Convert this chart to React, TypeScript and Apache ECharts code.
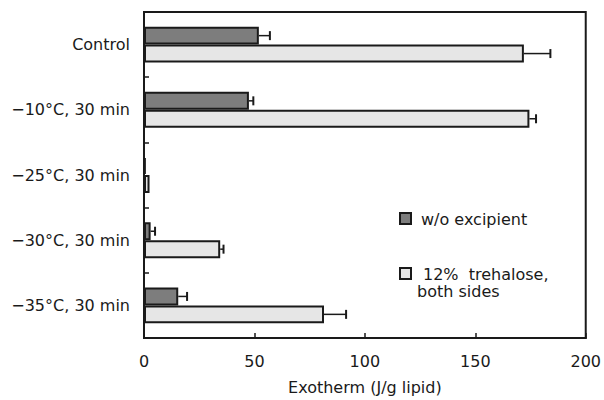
import React, { useEffect, useRef } from "react";
import * as echarts from "echarts";

const categories = ["Control", "−10°C, 30 min", "−25°C, 30 min", "−30°C, 30 min", "−35°C, 30 min"];
const woExcipient = [52, 47.5, 0.8, 3, 15.5];
const woExcipientErr = [5, 2, 0, 2, 4];
const trehalose = [172, 174.5, 2.5, 34.5, 81.5];
const trehaloseErr = [12, 3, 0, 1.5, 10];
const xTicks = { min: 0, max: 200, interval: 50 };
const legendLabels = ["w/o excipient", "12%  trehalose,", "both sides"];

const FONT = "DejaVu Sans";
const DARK = "#7d7d7d";
const LIGHT = "#e6e6e6";
const INK = "#1a1a1a";

export default function App() {
  const ref = useRef<HTMLDivElement>(null);
  useEffect(() => {
    if (!ref.current) return;
    const chart = echarts.init(ref.current, null, { renderer: "svg" });
    const errData: any[] = [];
    categories.forEach((_, i) => {
      errData.push([woExcipient[i], i, woExcipientErr[i], 0]);
      errData.push([trehalose[i], i, trehaloseErr[i], 1]);
    });
    const gapFrac = 0.45;
    chart.setOption({
      animation: false,
      backgroundColor: "#ffffff",
      grid: {
        left: 144,
        top: 12,
        width: 443,
        height: 330,
        show: true,
        borderColor: INK,
        borderWidth: 2,
        backgroundColor: "transparent",
      },
      xAxis: {
        type: "value",
        min: xTicks.min,
        max: xTicks.max,
        interval: xTicks.interval,
        name: "Exotherm (J/g lipid)",
        nameLocation: "middle",
        nameGap: 41,
        nameTextStyle: { fontFamily: FONT, fontSize: 16, color: INK },
        axisLine: { show: true, lineStyle: { color: INK, width: 2 } },
        axisTick: { show: true, inside: true, length: 5, lineStyle: { color: INK, width: 1.5 } },
        axisLabel: { fontFamily: FONT, fontSize: 16, color: INK, margin: 15 },
        splitLine: { show: false },
      },
      yAxis: {
        type: "category",
        data: categories,
        inverse: true,
        axisLine: { show: true, lineStyle: { color: INK, width: 2 } },
        axisTick: { show: true, inside: true, length: 5, alignWithLabel: false, lineStyle: { color: INK, width: 1.5 } },
        axisLabel: { fontFamily: FONT, fontSize: 16, color: INK, margin: 14 },
      },
      series: [
        {
          type: "bar",
          name: "w/o excipient",
          data: woExcipient,
          barGap: "0%",
          barCategoryGap: "45%",
          itemStyle: { color: DARK, borderColor: INK, borderWidth: 2 },
        },
        {
          type: "bar",
          name: "12% trehalose, both sides",
          data: trehalose,
          barGap: "0%",
          barCategoryGap: "45%",
          itemStyle: { color: LIGHT, borderColor: INK, borderWidth: 2 },
        },
        {
          type: "custom",
          data: errData,
          encode: { x: 0, y: 1 },
          z: 5,
          renderItem: (params: any, api: any) => {
            const v = api.value(0);
            const ci = api.value(1);
            const err = api.value(2);
            const s = api.value(3);
            if (!err) return null;
            const band = api.size([0, 1])[1];
            const barW = (band * (1 - gapFrac)) / 2;
            const off = (s === 0 ? -0.5 : 0.5) * barW;
            const p0 = api.coord([v, ci]);
            const p1 = api.coord([v + err, ci]);
            const y = p0[1] + off;
            const cap = 4.5;
            return {
              type: "group",
              children: [
                { type: "line", shape: { x1: p0[0], y1: y, x2: p1[0], y2: y }, style: { stroke: INK, lineWidth: 1.5 } },
                { type: "line", shape: { x1: p1[0], y1: y - cap, x2: p1[0], y2: y + cap }, style: { stroke: INK, lineWidth: 2 } },
              ],
            };
          },
        },
      ],
      graphic: [
        { type: "rect", shape: { x: 400, y: 213, width: 11, height: 11 }, style: { fill: DARK, stroke: INK, lineWidth: 2 } },
        { type: "text", x: 421, y: 219, style: { text: legendLabels[0], fontFamily: FONT, fontSize: 16, fill: INK, verticalAlign: "middle" } },
        { type: "rect", shape: { x: 400, y: 268, width: 11, height: 11 }, style: { fill: LIGHT, stroke: INK, lineWidth: 2 } },
        { type: "text", x: 423, y: 274, style: { text: legendLabels[1], fontFamily: FONT, fontSize: 16, fill: INK, verticalAlign: "middle" } },
        { type: "text", x: 417, y: 291, style: { text: legendLabels[2], fontFamily: FONT, fontSize: 16, fill: INK, verticalAlign: "middle" } },
      ],
    });
    return () => chart.dispose();
  }, []);
  return <div ref={ref} style={{ position: "fixed", left: 0, top: 0, width: 604, height: 400 }} />;
}
